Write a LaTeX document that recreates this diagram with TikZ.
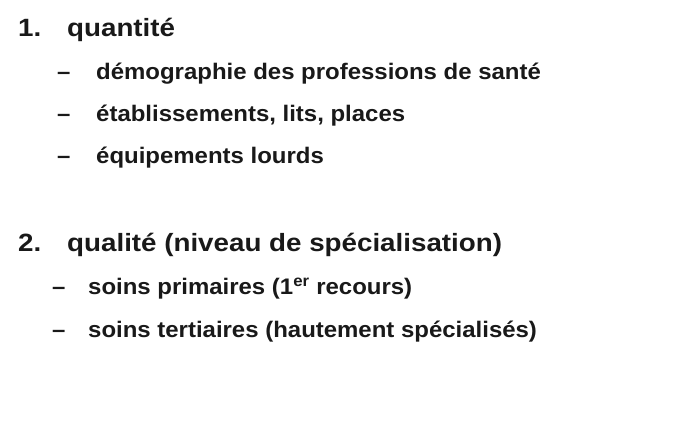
\documentclass[tikz,border=0pt]{standalone}
\usepackage{fontspec}
\setmainfont{Liberation Sans}
\newfontfamily\itemfont[Ligatures=TeX,FakeStretch=1.11]{Liberation Sans}
\newfontfamily\subfont[Ligatures=TeX,FakeStretch=1.065]{Liberation Sans}
\usepackage{tikz}
\usetikzlibrary{positioning}

\begin{document}
\begin{tikzpicture}[x=1pt,y=-1pt,
    every node/.style={inner sep=0pt,anchor=base west,text=black!90},
    itemtext/.style={font=\itemfont\bfseries\fontsize{25}{30}\selectfont},
    subtext/.style={font=\subfont\bfseries\fontsize{22.5}{27}\selectfont}]
    \useasboundingbox (0,0) rectangle (678,432);
    % first block
    \node[itemtext] (n1) at (18,36) {1.};
    \node[itemtext] (quant) at (67,36) {quantit\'e};
    \node[subtext] (d11) at (57,79) {--};
    \node[subtext] (demo) at (96,79) {d\'emographie des professions de sant\'e};
    \node[subtext] (d12) at (57,121) {--};
    \node[subtext] (etab) at (96,121) {\'etablissements, lits, places};
    \node[subtext] (d13) at (57,163) {--};
    \node[subtext] (equip) at (96,163) {\'equipements lourds};
    % second block
    \node[itemtext] (n2) at (18,251) {2.};
    \node[itemtext] (qual) at (67,251) {qualit\'e (niveau de sp\'ecialisation)};
    \node[subtext] (d21) at (52,294) {--};
    \node[subtext] (prim) at (88,294) {soins primaires (1\textsuperscript{er} recours)};
    \node[subtext] (d22) at (52,337) {--};
    \node[subtext] (tert) at (88,337) {soins tertiaires (hautement sp\'ecialis\'es)};
\end{tikzpicture}
\end{document}
